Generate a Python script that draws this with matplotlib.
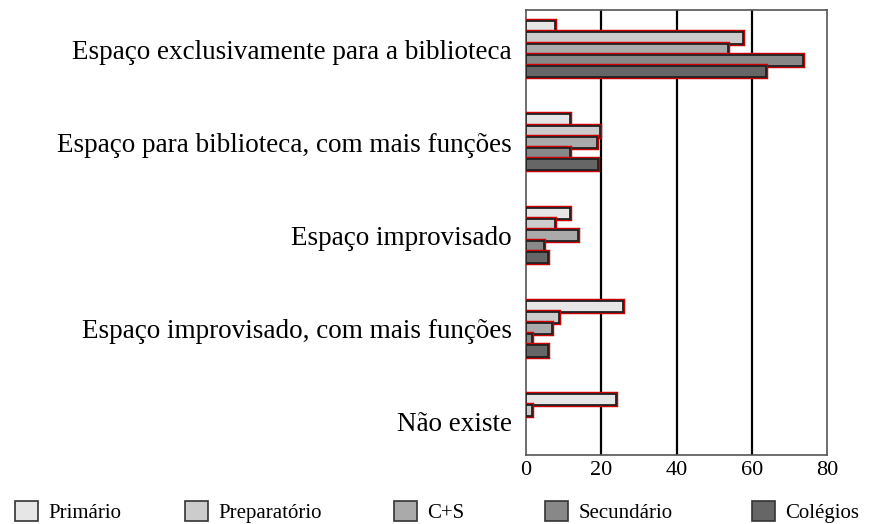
import numpy as np
import matplotlib
matplotlib.use('Agg')
import matplotlib.pyplot as plt
import matplotlib.patheffects as pe
from matplotlib.patches import Patch

plt.rcParams['font.family'] = ['Liberation Serif', 'DejaVu Serif']

categories = ['Espaço exclusivamente para a biblioteca',
              'Espaço para biblioteca, com mais funções',
              'Espaço improvisado',
              'Espaço improvisado, com mais funções',
              'Não existe']
series = ['Primário', 'Preparatório', 'C+S', 'Secundário', 'Colégios']
primario = [7.7, 11.7, 11.7, 25.7, 23.9]
preparatorio = [57.8, 19.6, 7.7, 8.8, 1.6]
cs = [53.8, 18.8, 13.8, 6.9, 0]
secundario = [73.7, 11.7, 4.8, 1.6, 0]
colegios = [63.9, 19.1, 5.8, 5.8, 0]
colors = ['#e6e6e6', '#cccccc', '#aaaaaa', '#888888', '#666666']
xticks = [0, 20, 40, 60, 80]

values = [primario, preparatorio, cs, secundario, colegios]

fig = plt.figure(figsize=(8.81, 5.24), dpi=100)
ax = fig.add_axes([526/881, 1-455/524, 301/881, 445/524])

y = np.arange(len(categories))
h = 0.12
shadow = [pe.Stroke(linewidth=3.2, foreground='#cc0000'), pe.Normal()]
for i, (vals, c) in enumerate(zip(values, colors)):
    pos = y - 2*h + i*h
    b = ax.barh(pos, vals, height=h, color=c, edgecolor='#222222', linewidth=1.3,
                label=series[i], zorder=3)
    for p, v in zip(b.patches, vals):
        if v > 0:
            p.set_path_effects(shadow)
        else:
            p.set_visible(False)

ax.set_xlim(0, 80)
ax.set_ylim(4.355, -0.42)
ax.set_xticks(xticks)
ax.set_xticklabels([str(t) for t in xticks], fontsize=16)
ax.set_yticks(y)
ax.set_yticklabels(categories, fontsize=19.5)
ax.tick_params(axis='x', length=0, pad=4)
ax.tick_params(axis='y', length=0, pad=10)
for t in xticks[1:-1]:
    ax.axvline(t, color='black', lw=1.6, zorder=1)
for s in ax.spines.values():
    s.set_color('#555555')
    s.set_linewidth(1.2)

leg_x = [15, 185, 394, 545, 752]
for c, name, lx in zip(colors, series, leg_x):
    handle = Patch(facecolor=c, edgecolor='#333333', linewidth=1.2)
    fig.legend([handle], [name], loc='center left',
               bbox_to_anchor=(lx/881, 1-512/524), frameon=False,
               fontsize=15, handlelength=1.1, handleheight=1.1,
               handletextpad=0.5, borderpad=0, borderaxespad=0)

fig.savefig('out.png', dpi=100)
